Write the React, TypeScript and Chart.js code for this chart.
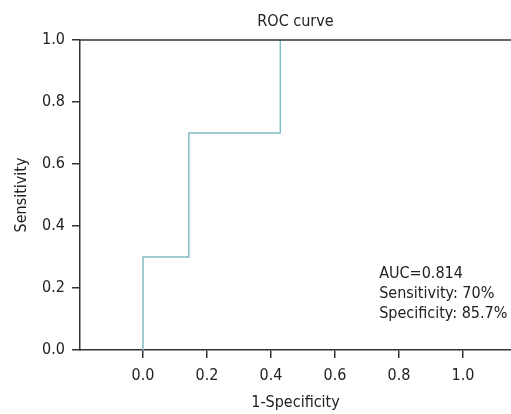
import { useEffect, useRef } from 'react';
import { Chart, registerables } from 'chart.js';

Chart.register(...registerables);

// ROC curve points (false positive rate, true positive rate)
const fprValues = [0, 0, 0.143, 0.143, 0.429, 0.429];
const tprValues = [0, 0.3, 0.3, 0.7, 0.7, 1.0];
const tickValues = [0, 0.2, 0.4, 0.6, 0.8, 1.0];
const annotationLines = ['AUC=0.814', 'Sensitivity: 70%', 'Specificity: 85.7%'];
const titleText = 'ROC curve';
const xTitle = '1-Specificity';
const yTitle = 'Sensitivity';

const FONT = "'Liberation Sans Narrow', 'DejaVu Sans Condensed', 'Open Sans', sans-serif";
const FS = 16;
const AXIS_COLOR = '#333333';
const TEXT_COLOR = '#222222';
const LINE_COLOR = '#84bcc6';

const extrasPlugin = {
  id: 'rocExtras',
  afterDraw(chart: any) {
    const { ctx, chartArea } = chart;
    const xs = chart.scales.x;
    const ys = chart.scales.y;
    ctx.save();
    // top frame line
    ctx.strokeStyle = AXIS_COLOR;
    ctx.lineWidth = 1.5;
    ctx.beginPath();
    ctx.moveTo(chartArea.left, chartArea.top);
    ctx.lineTo(chartArea.right, chartArea.top);
    ctx.stroke();
    // annotation
    ctx.fillStyle = TEXT_COLOR;
    ctx.font = `${FS}px ${FONT}`;
    ctx.textAlign = 'left';
    ctx.textBaseline = 'middle';
    const x0 = xs.getPixelForValue(0.738);
    const y0 = ys.getPixelForValue(0.245);
    annotationLines.forEach((t, i) => ctx.fillText(t, x0, y0 + i * 20));
    ctx.restore();
  },
};

export default function App() {
  const ref = useRef<HTMLCanvasElement | null>(null);
  useEffect(() => {
    if (!ref.current) return;
    const chart = new Chart(ref.current, {
      type: 'scatter',
      data: {
        datasets: [
          {
            data: fprValues.map((x, i) => ({ x, y: tprValues[i] })),
            showLine: true,
            borderColor: LINE_COLOR,
            borderWidth: 1.5,
            pointRadius: 0,
            fill: false,
          },
        ],
      },
      options: {
        animation: false,
        responsive: true,
        maintainAspectRatio: false,
        layout: { padding: 0 },
        plugins: {
          legend: { display: false },
          tooltip: { enabled: false },
          title: {
            display: true,
            text: titleText,
            fullSize: false,
            color: TEXT_COLOR,
            font: { family: FONT, size: FS, weight: 'normal', lineHeight: 1.2 },
            padding: { top: 12, bottom: 8.8 },
          },
        },
        scales: {
          x: {
            type: 'linear',
            min: -0.197,
            max: 1.15,
            afterBuildTicks: (s: any) => {
              s.ticks = tickValues.map((v) => ({ value: v }));
            },
            afterFit: (s: any) => {
              s.height = 64;
            },
            grid: { drawOnChartArea: false, drawTicks: true, tickLength: 8, color: AXIS_COLOR, lineWidth: 1.5 },
            border: { display: true, color: AXIS_COLOR, width: 1.5 },
            ticks: {
              color: TEXT_COLOR,
              font: { family: FONT, size: FS },
              padding: 8,
              maxRotation: 0,
              callback: (v: any) => Number(v).toFixed(1),
            },
            title: {
              display: true,
              text: xTitle,
              color: TEXT_COLOR,
              font: { family: FONT, size: FS, lineHeight: 1.2 },
              padding: 2,
            },
          },
          y: {
            type: 'linear',
            min: 0,
            max: 1,
            afterBuildTicks: (s: any) => {
              s.ticks = tickValues.map((v) => ({ value: v }));
            },
            afterFit: (s: any) => {
              s.width = 80;
            },
            grid: { drawOnChartArea: false, drawTicks: true, tickLength: 8, color: AXIS_COLOR, lineWidth: 1.5 },
            border: { display: true, color: AXIS_COLOR, width: 1.5 },
            ticks: {
              color: TEXT_COLOR,
              font: { family: FONT, size: FS },
              padding: 7,
              callback: (v: any) => Number(v).toFixed(1),
            },
            title: {
              display: true,
              text: yTitle,
              color: TEXT_COLOR,
              font: { family: FONT, size: FS, lineHeight: 1.2 },
              padding: 12,
            },
          },
        },
      },
      plugins: [extrasPlugin],
    } as any);
    return () => chart.destroy();
  }, []);
  return (
    <div style={{ position: 'absolute', left: 0, top: 0, width: 511, height: 414, background: '#fff' }}>
      <canvas ref={ref} />
    </div>
  );
}
